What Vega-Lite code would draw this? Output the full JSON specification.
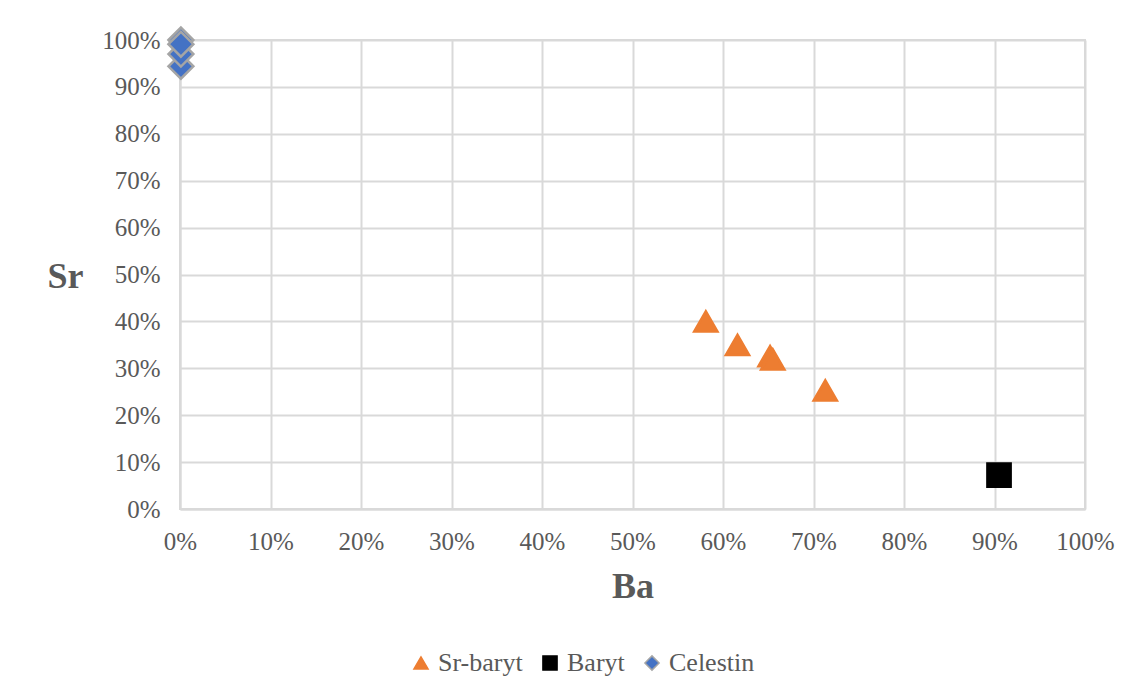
{
  "$schema": "https://vega.github.io/schema/vega-lite/v6.json",
  "autosize": {"type": "none"},
  "width": 905,
  "height": 469,
  "padding": {"left": 180, "top": 40, "right": 49, "bottom": 186},
  "background": "white",
  "config": {
    "font": "Liberation Serif",
    "view": {"stroke": "#d9d9d9", "strokeWidth": 2},
    "axis": {
      "labelFont": "Liberation Serif",
      "labelFontSize": 25,
      "labelColor": "#595959",
      "labelFlush": false,
      "labelOverlap": false,
      "titleFont": "Liberation Serif",
      "titleFontSize": 36,
      "titleFontWeight": "bold",
      "titleColor": "#595959",
      "gridColor": "#d9d9d9",
      "gridWidth": 2,
      "domainColor": "#d9d9d9",
      "domainWidth": 2,
      "ticks": false
    },
    "legend": {
      "labelFont": "Liberation Serif",
      "labelFontSize": 26,
      "labelColor": "#595959"
    }
  },
  "data": {
    "values": [
      {"Ba": 0.581, "Sr": 0.400, "series": "Sr-baryt"},
      {"Ba": 0.616, "Sr": 0.350, "series": "Sr-baryt"},
      {"Ba": 0.652, "Sr": 0.326, "series": "Sr-baryt"},
      {"Ba": 0.655, "Sr": 0.319, "series": "Sr-baryt"},
      {"Ba": 0.713, "Sr": 0.253, "series": "Sr-baryt"},
      {"Ba": 0.905, "Sr": 0.072, "series": "Baryt"},
      {"Ba": 0.001, "Sr": 0.944, "series": "Celestin"},
      {"Ba": 0.001, "Sr": 0.970, "series": "Celestin"},
      {"Ba": 0.001, "Sr": 1.000, "series": "Celestin"},
      {"Ba": 0.001, "Sr": 0.991, "series": "Celestin"}
    ]
  },
  "mark": {"type": "point", "filled": true, "opacity": 1, "strokeWidth": 2.5, "clip": false},
  "encoding": {
    "x": {
      "field": "Ba",
      "type": "quantitative",
      "scale": {"domain": [0, 1], "nice": false, "zero": true},
      "axis": {
        "format": ".0%",
        "values": [0, 0.1, 0.2, 0.3, 0.4, 0.5, 0.6, 0.7, 0.8, 0.9, 1],
        "labelPadding": 20,
        "title": "Ba",
        "titleY": 77,
        "titleBaseline": "middle"
      }
    },
    "y": {
      "field": "Sr",
      "type": "quantitative",
      "scale": {"domain": [0, 1], "nice": false},
      "axis": {
        "format": ".0%",
        "values": [0, 0.1, 0.2, 0.3, 0.4, 0.5, 0.6, 0.7, 0.8, 0.9, 1],
        "labelPadding": 20,
        "title": "Sr",
        "titleAngle": 0,
        "titleX": -115,
        "titleY": 236,
        "titleAlign": "center",
        "titleBaseline": "middle"
      }
    },
    "shape": {
      "field": "series",
      "type": "nominal",
      "scale": {"domain": ["Sr-baryt", "Baryt", "Celestin"], "range": ["triangle-up", "square", "diamond"]},
      "legend": {
        "title": null,
        "orient": "none",
        "direction": "horizontal",
        "legendX": 228,
        "legendY": 610,
        "labelFont": "Liberation Serif",
        "labelFontSize": 26,
        "labelColor": "#595959",
        "symbolSize": 200,
        "symbolStrokeWidth": 1.5,
        "columnPadding": 14,
        "labelOffset": 4
      }
    },
    "fill": {
      "field": "series",
      "type": "nominal",
      "scale": {"domain": ["Sr-baryt", "Baryt", "Celestin"], "range": ["#ed7d31", "#000000", "#4472c4"]}
    },
    "stroke": {
      "field": "series",
      "type": "nominal",
      "scale": {"domain": ["Sr-baryt", "Baryt", "Celestin"], "range": ["#ed7d31", "#000000", "#a5a5a5"]}
    },
    "size": {
      "condition": {"test": "datum.series === 'Celestin'", "value": 620},
      "value": 540
    }
  }
}
